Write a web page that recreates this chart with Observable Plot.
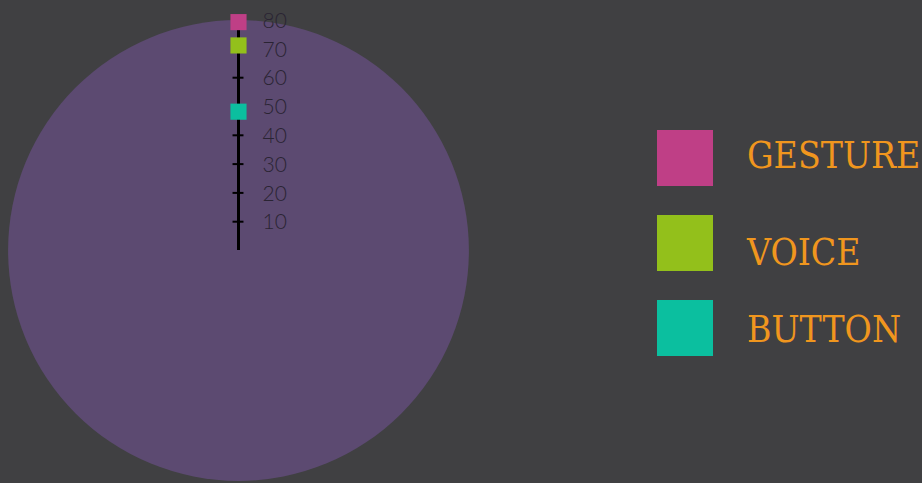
<!DOCTYPE html>
<html>
<head>
<meta charset="utf-8">
<script src="https://cdn.jsdelivr.net/npm/d3@7"></script>
<script src="https://cdn.jsdelivr.net/npm/@observablehq/plot@0.6"></script>
<style>
  html, body { margin: 0; padding: 0; background: #404042; }
  #wrap { position: relative; width: 922px; height: 483px; background: #404042; overflow: hidden; }
  #wrap > svg { position: absolute; left: 0; top: 0; }
</style>
</head>
<body>
<div id="wrap"></div>
<script>
// ---- data ----
const categories = ["GESTURE", "VOICE", "BUTTON"];
const values = [79.3, 71.2, 48.2];
const colors = ["#bf3f86", "#93c01b", "#0bbf9f"];
const tickValues = [10, 20, 30, 40, 50, 60, 70, 80];
const maxValue = 80;

const series = categories.map((name, i) => ({name, value: values[i]}));

const cx = 238, cy = 250, R = 230.4;

const chart = Plot.plot({
  width: 922,
  height: 483,
  margin: 0,
  style: {background: "transparent", overflow: "visible"},
  x: {domain: [-maxValue, maxValue], range: [cx - R, cx + R], axis: null},
  y: {domain: [-maxValue, maxValue], range: [cy + R, cy - R], axis: null},
  r: {type: "linear", domain: [0, maxValue], range: [0, R]},
  color: {domain: categories, range: colors},
  marks: [
    Plot.dot([maxValue], {x: 0, y: 0, r: d => d, fill: "#5c4a71", stroke: "none"}),
    Plot.ruleX([0], {y1: 0, y2: maxValue, stroke: "#000", strokeWidth: 3}),
    Plot.ruleY(tickValues, {y: d => d, x1: -1.9, x2: 1.9, stroke: "#000", strokeWidth: 2}),
    Plot.text(tickValues, {
      x: 0, y: d => d, text: d => String(d), dx: 24, dy: 1, textAnchor: "start",
      fontSize: 21, fontWeight: 300, fontFamily: "Lato", fill: "#2a2433"
    }),
    Plot.dot(series, {x: 0, y: "value", symbol: "square", r: 9.1, fill: "name", stroke: "none"})
  ]
});
document.getElementById("wrap").appendChild(chart);

// ---- legend ----
const legendLayout = [
  {top: 130, baseline: 168},
  {top: 215, baseline: 265},
  {top: 300, baseline: 342}
];
const leg = d3.select("#wrap").append("svg")
  .attr("width", 922).attr("height", 483)
  .style("pointer-events", "none");
categories.forEach((name, i) => {
  leg.append("rect").attr("x", 657).attr("y", legendLayout[i].top)
    .attr("width", 56).attr("height", 56).attr("fill", colors[i]);
  leg.append("text").attr("x", 747).attr("y", legendLayout[i].baseline)
    .attr("font-family", "DejaVu Serif").attr("font-stretch", "condensed")
    .style("font-stretch", "condensed").attr("font-size", 37)
    .attr("fill", "#f0961e").text(name);
});
</script>
</body>
</html>
